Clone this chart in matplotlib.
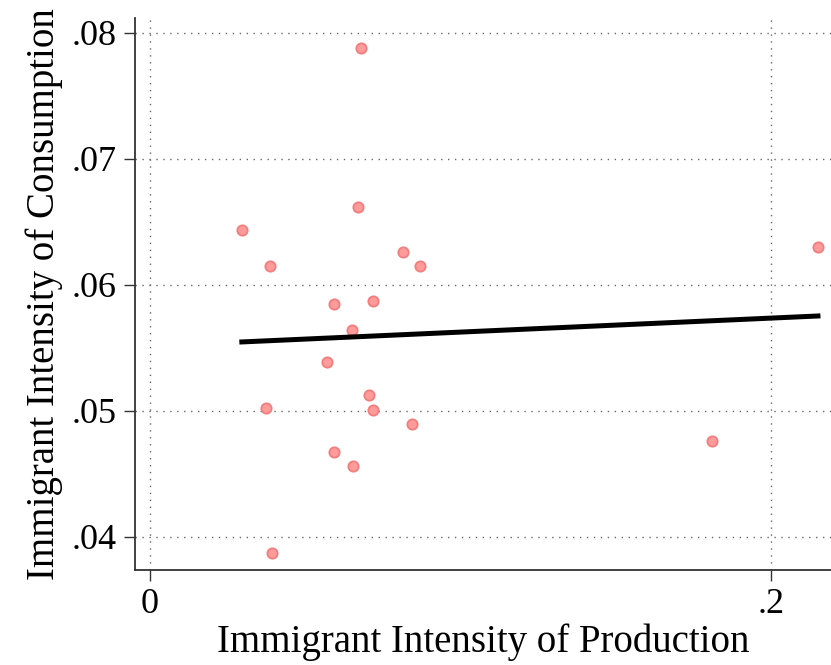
import matplotlib.pyplot as plt
import numpy as np

# scatter points (immigrant intensity: production vs consumption)
prod = [0.0296, 0.0386, 0.0670, 0.0680, 0.0815, 0.0870, 0.0593, 0.0718, 0.0651,
        0.0570, 0.0374, 0.0705, 0.0718, 0.0844, 0.0593, 0.0654, 0.0393, 0.1810, 0.2151]
cons = [0.06437, 0.06151, 0.06619, 0.07881, 0.06262, 0.06151, 0.05849, 0.05873, 0.05643,
        0.05389, 0.05024, 0.05127, 0.05008, 0.04897, 0.04675, 0.04563, 0.03873, 0.04762, 0.06302]

# fitted line
fit_x = [0.0296, 0.2151]
fit_y = [0.05548, 0.05754]

xticks = [0, 0.2]
xticklabels = ['0', '.2']
yticks = [0.04, 0.05, 0.06, 0.07, 0.08]
yticklabels = ['.04', '.05', '.06', '.07', '.08']

plt.rcParams['font.family'] = ['Liberation Serif', 'DejaVu Serif']

fig = plt.figure(figsize=(8.31, 6.65), dpi=100)
ax = fig.add_axes([135/831, 1-570/665, 1-135/831, (570-18)/665])

ax.scatter(prod, cons, s=55, facecolor='#ff9696', edgecolor='#f27a7a', linewidth=1.3, alpha=0.95, zorder=3)
ax.plot(fit_x, fit_y, color='black', linewidth=3.6, zorder=4)

ax.set_xlim(-0.0048, 0.2193)
ax.set_ylim(0.03738, 0.08119)

ax.set_xticks(xticks)
ax.set_xticklabels(xticklabels)
ax.set_yticks(yticks)
ax.set_yticklabels(yticklabels)
ax.tick_params(labelsize=26, length=8, width=1, color='#333333', pad=5)

ax.grid(True, linestyle=(0, (1, 4)), color='#666666', linewidth=1)
ax.set_axisbelow(True)

for s in ['top', 'right']:
    ax.spines[s].set_visible(False)
for s in ['left', 'bottom']:
    ax.spines[s].set_color('#333333')
    ax.spines[s].set_linewidth(1.3)

ax.set_xlabel('Immigrant Intensity of Production', fontsize=28, labelpad=2)
ax.set_ylabel('Immigrant Intensity of Consumption', fontsize=28, labelpad=6)

plt.savefig('out.png', dpi=100)
